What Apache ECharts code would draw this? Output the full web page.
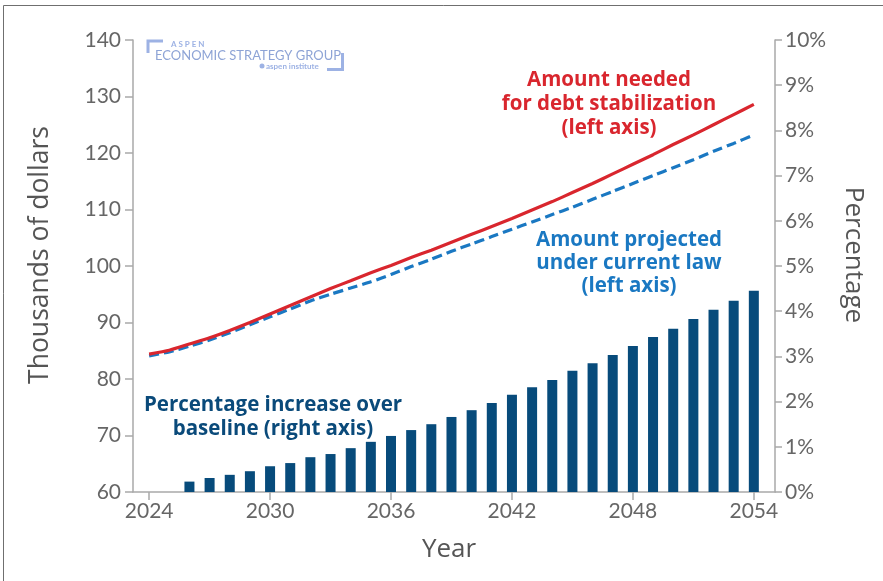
<!DOCTYPE html>
<html>
<head>
<meta charset="utf-8">
<script src="https://cdn.jsdelivr.net/npm/echarts@6/dist/echarts.min.js"></script>
<style>
html,body{margin:0;padding:0;background:#fff;}
#c{width:883px;height:581px;}
</style>
</head>
<body>
<div id="c"></div>
<script>
var years = [2024,2025,2026,2027,2028,2029,2030,2031,2032,2033,2034,2035,2036,2037,2038,2039,2040,2041,2042,2043,2044,2045,2046,2047,2048,2049,2050,2051,2052,2053,2054];
var neededForStabilization = [84.4,85.1,86.2,87.3,88.6,90.0,91.5,93.0,94.5,96.0,97.4,98.8,100.1,101.5,102.8,104.2,105.6,107.0,108.4,109.9,111.4,113.0,114.6,116.3,118.0,119.7,121.5,123.2,125.0,126.8,128.6];
var projectedCurrentLaw = [84.1,84.8,85.8,86.9,88.2,89.6,91.0,92.4,93.8,95.0,96.1,97.2,98.5,99.9,101.2,102.6,103.9,105.2,106.5,107.8,109.1,110.4,111.8,113.2,114.6,116.0,117.4,118.8,120.3,121.7,123.2];
var barYears = [2026,2027,2028,2029,2030,2031,2032,2033,2034,2035,2036,2037,2038,2039,2040,2041,2042,2043,2044,2045,2046,2047,2048,2049,2050,2051,2052,2053,2054];
var pctIncrease = [0.23,0.31,0.38,0.46,0.57,0.64,0.77,0.84,0.97,1.11,1.24,1.37,1.50,1.66,1.81,1.97,2.15,2.32,2.48,2.68,2.85,3.03,3.23,3.43,3.61,3.83,4.03,4.23,4.45];
var xTickLabels = [2024,2030,2036,2042,2048,2054];
var leftTicks = {min:60, max:140, interval:10};
var rightTicks = {min:0, max:10, interval:1};

function pairs(xs, ys){ return xs.map(function(x,i){ return [x, ys[i]]; }); }

var FONT = 'Lato';
var axisGray = '#a9a9a9';
var labelGray = '#666666';
var chart = echarts.init(document.getElementById('c'), null, {renderer:'canvas'});
var logoColor = '#9db2e4';

chart.setOption({
  animation:false,
  backgroundColor:'#ffffff',
  grid:{left:133, right:108, top:40, bottom:89, containLabel:false},
  xAxis:{
    type:'value', min:2023.2, max:2055.05,
    axisLine:{show:true, lineStyle:{color:axisGray, width:1.5}},
    axisTick:{show:true, length:8, lineStyle:{color:axisGray, width:1.5}, customValues:xTickLabels},
    axisLabel:{show:true, customValues:xTickLabels, color:labelGray, fontSize:21, fontFamily:FONT, margin:9, formatter:function(v){return String(v);}},
    splitLine:{show:false}
  },
  yAxis:[
    {
      type:'value', position:'left', min:leftTicks.min, max:leftTicks.max, interval:leftTicks.interval,
      axisLine:{show:true, lineStyle:{color:axisGray, width:1.5}},
      axisTick:{show:true, length:8, lineStyle:{color:axisGray, width:1.5}},
      axisLabel:{color:labelGray, fontSize:21, fontFamily:FONT, margin:12},
      splitLine:{show:false}
    },
    {
      type:'value', position:'right', min:rightTicks.min, max:rightTicks.max, interval:rightTicks.interval,
      axisLine:{show:true, lineStyle:{color:axisGray, width:1.5}},
      axisTick:{show:true, length:7, lineStyle:{color:axisGray, width:1.5}},
      axisLabel:{color:labelGray, fontSize:21, fontFamily:FONT, margin:10, formatter:'{value}%'},
      splitLine:{show:false}
    }
  ],
  series:[
    {
      name:'Percentage increase over baseline', type:'bar', yAxisIndex:1,
      data:pairs(barYears, pctIncrease), barWidth:10,
      itemStyle:{color:'#074b7b'}
    },
    {
      name:'Amount projected under current law', type:'line', yAxisIndex:0,
      data:pairs(years, projectedCurrentLaw), showSymbol:false, smooth:0.2,
      lineStyle:{color:'#1a78c2', width:3.2, type:[10,5]}
    },
    {
      name:'Amount needed for debt stabilization', type:'line', yAxisIndex:0,
      data:pairs(years, neededForStabilization), showSymbol:false, smooth:0.2,
      lineStyle:{color:'#d9262e', width:3.2}
    }
  ],
  graphic:[
    {type:'rect', shape:{x:3.5, y:5.5, width:900, height:600}, style:{fill:'none', stroke:'#6f6f6f', lineWidth:1}, silent:true},
    {type:'text', x:40, y:255, rotation:Math.PI/2, style:{text:'Thousands of dollars', fill:'#555555', font:'26.5px "Open Sans"', align:'center', verticalAlign:'middle'}},
    {type:'text', x:853, y:255, rotation:-Math.PI/2, style:{text:'Percentage', fill:'#555555', font:'26px "Open Sans"', align:'center', verticalAlign:'middle'}},
    {type:'text', x:449, y:550, style:{text:'Year', fill:'#555555', font:'26px "Open Sans"', align:'center', verticalAlign:'middle'}},
    {type:'text', x:609, y:104, style:{text:'Amount needed\nfor debt stabilization\n(left axis)', fill:'#d9262e', font:'bold 20.5px "Open Sans"', align:'center', verticalAlign:'middle', lineHeight:24}},
    {type:'text', x:629, y:263, style:{text:'Amount projected\nunder current law\n(left axis)', fill:'#1a78c2', font:'bold 20.5px "Open Sans"', align:'center', verticalAlign:'middle', lineHeight:23}},
    {type:'text', x:273, y:417, style:{text:'Percentage increase over\nbaseline (right axis)', fill:'#0a4a7a', font:'bold 20.5px "Open Sans"', align:'center', verticalAlign:'middle', lineHeight:24}},
    {type:'polyline', shape:{points:[[148,53],[148,41],[163,41]]}, style:{stroke:logoColor, lineWidth:3, fill:'none'}},
    {type:'polyline', shape:{points:[[327,69.5],[342.5,69.5],[342.5,53]]}, style:{stroke:logoColor, lineWidth:3, fill:'none'}},
    {type:'text', x:171, y:44, style:{text:'A S P E N', fill:logoColor, font:'bold 8px Lato', align:'left', verticalAlign:'middle'}},
    {type:'text', x:155, y:56, style:{text:'ECONOMIC STRATEGY GROUP', fill:'#8ea4d6', font:'13px Lato', align:'left', verticalAlign:'middle'}},
    {type:'circle', shape:{cx:262, cy:66, r:2.5}, style:{fill:logoColor}},
    {type:'text', x:266, y:66, style:{text:'aspen institute', fill:logoColor, font:'bold 8px Lato', align:'left', verticalAlign:'middle'}}
  ]
});
</script>
</body>
</html>
